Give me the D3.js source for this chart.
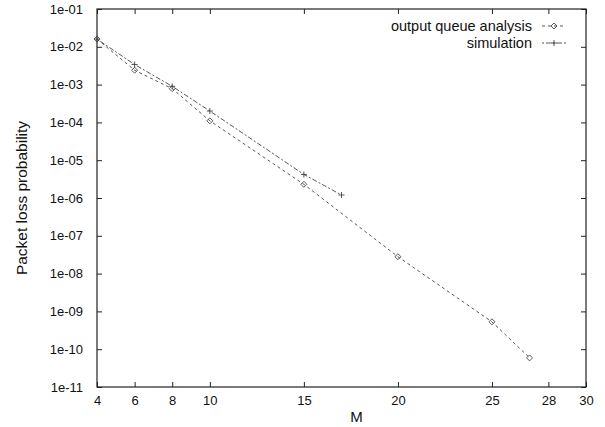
<!DOCTYPE html>
<head>
  <title>Packet loss probability vs M</title>
  <meta charset="utf-8">
  <script src="https://cdn.jsdelivr.net/npm/d3@7"></script>
  <style>
    body { margin: 0; background: #fff; }
    text { font-family: "Liberation Sans", Arial, sans-serif; fill: #111; }
  </style>
</head>

<body>

<div id="container"></div>

<script>

  // chart size and margins
  const width = 605;
  const height = 427;
  const margin = {top: 9, right: 19, bottom: 40, left: 97};

  // x ticks as printed on the original
  const xTicks = [4, 6, 8, 10, 15, 20, 25, 28, 30];
  const yTicks = [1e-1, 1e-2, 1e-3, 1e-4, 1e-5, 1e-6, 1e-7, 1e-8, 1e-9, 1e-10, 1e-11];

  // output queue analysis
  const analysisM = [4, 6, 8, 10, 15, 20, 25, 27];
  const analysisP = [1.6e-2, 2.4e-3, 7.8e-4, 1.1e-4, 2.3e-6, 2.8e-8, 5.3e-10, 5.9e-11];

  // simulation
  const simM = [4, 6, 8, 10, 15, 17];
  const simP = [1.6e-2, 3.4e-3, 9.0e-4, 2.0e-4, 4.2e-6, 1.2e-6];

  const series = [
    {name: 'output queue analysis', m: analysisM, p: analysisP, dash: '3,3', marker: 'diamond'},
    {name: 'simulation', m: simM, p: simP, dash: '2,2,5,2', marker: 'plus'}
  ];

  const innerW = width - margin.left - margin.right;
  const innerH = height - margin.top - margin.bottom;

  const svg = d3.select('div#container').append('svg')
    .attr('width', width)
    .attr('height', height);

  const g = svg.append('g')
    .attr('transform', `translate(${margin.left},${margin.top})`);

  const xScale = d3.scaleLinear().domain([4, 30]).range([0, innerW]);
  const yScale = d3.scaleLog().domain([1e-11, 1e-1]).range([innerH, 0]);

  const fmt = v => {
    const e = Math.round(Math.log10(v));
    return '1e-' + String(-e).padStart(2, '0');
  };

  // bottom / left axes with inward ticks, mirrored on top / right
  const tickLen = 5;
  g.append('g')
    .attr('transform', `translate(0,${innerH})`)
    .call(d3.axisBottom(xScale).tickValues(xTicks).tickSizeInner(-tickLen).tickSizeOuter(0).tickPadding(9))
    .call(a => a.select('.domain').remove());
  g.append('g')
    .call(d3.axisTop(xScale).tickValues(xTicks).tickSizeInner(-tickLen).tickSizeOuter(0).tickFormat(''))
    .call(a => a.select('.domain').remove());
  g.append('g')
    .call(d3.axisLeft(yScale).tickValues(yTicks).tickFormat(fmt).tickSizeInner(-tickLen).tickSizeOuter(0).tickPadding(14))
    .call(a => a.select('.domain').remove());
  g.append('g')
    .attr('transform', `translate(${innerW},0)`)
    .call(d3.axisRight(yScale).tickValues(yTicks).tickSizeInner(-tickLen).tickSizeOuter(0).tickFormat(''))
    .call(a => a.select('.domain').remove());

  g.selectAll('.tick text').style('font-size', '13px').style('font-family', '"Liberation Sans", Arial, sans-serif');
  g.selectAll('.tick line').attr('stroke', '#222');

  // border
  g.append('rect')
    .attr('width', innerW)
    .attr('height', innerH)
    .attr('fill', 'none')
    .attr('stroke', '#222')
    .attr('stroke-width', 1.2);

  // axis titles
  svg.append('text')
    .attr('x', margin.left + xScale(17.8))
    .attr('y', 422)
    .attr('text-anchor', 'middle')
    .style('font-size', '15px')
    .text('M');

  svg.append('text')
    .attr('transform', `translate(27,${margin.top + innerH / 2}) rotate(-90)`)
    .attr('text-anchor', 'middle')
    .style('font-size', '15.5px')
    .text('Packet loss probability');

  // lines and markers
  const line = d3.line()
    .x(d => xScale(d[0]))
    .y(d => yScale(d[1]));

  const drawMarker = (sel, type) => {
    if (type === 'diamond') {
      sel.append('path')
        .attr('d', 'M0,-3L3,0L0,3L-3,0Z')
        .attr('fill', 'none')
        .attr('stroke', '#444')
        .attr('stroke-width', 0.9);
    } else {
      sel.append('path')
        .attr('d', 'M-3,0H3M0,-3V3')
        .attr('stroke', '#444')
        .attr('stroke-width', 0.9);
    }
  };

  series.forEach(s => {
    const pts = s.m.map((m, i) => [m, s.p[i]]);
    g.append('path')
      .attr('d', line(pts))
      .attr('fill', 'none')
      .attr('stroke', '#444')
      .attr('stroke-width', 0.9)
      .attr('stroke-dasharray', s.dash);
    g.selectAll(null)
      .data(pts)
      .enter()
      .append('g')
        .attr('transform', d => `translate(${xScale(d[0])},${yScale(d[1])})`)
        .each(function() { drawMarker(d3.select(this), s.marker); });
  });

  // legend (top right, gnuplot style)
  const legend = svg.append('g');
  series.forEach((s, i) => {
    const y = 31 + i * 17;
    legend.append('text')
      .attr('x', 532)
      .attr('y', y)
      .attr('text-anchor', 'end')
      .style('font-size', '14.5px')
      .text(s.name);
    legend.append('line')
      .attr('x1', 542).attr('x2', 566)
      .attr('y1', y - 5).attr('y2', y - 5)
      .attr('stroke', '#444')
      .attr('stroke-width', 0.9)
      .attr('stroke-dasharray', s.dash);
    drawMarker(legend.append('g').attr('transform', `translate(554,${y - 5})`), s.marker);
  });

</script>

</body>
